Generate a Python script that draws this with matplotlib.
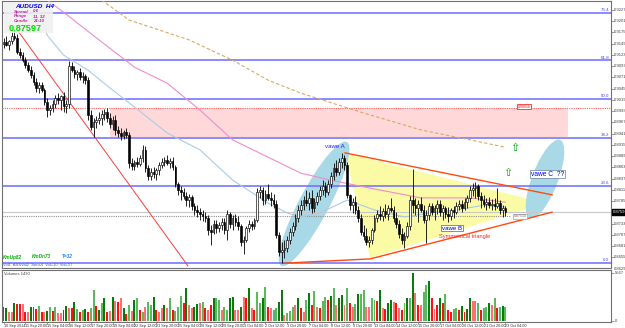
import numpy as np
import matplotlib
matplotlib.use("Agg")
import matplotlib.pyplot as plt
from matplotlib.patches import Ellipse, Polygon, Rectangle
from matplotlib.transforms import IdentityTransform, blended_transform_factory

plt.rcParams['font.family'] = ['Liberation Sans', 'DejaVu Sans']
NARROW = ['Liberation Sans Narrow', 'Liberation Sans', 'DejaVu Sans']

# AUDUSD H4 candles, 10 Sep 12:00 .. 23 Oct 04:00 2014, prices x 10^4
FIRST_OPEN = 9148
closes = [9153, 9146, 9155, 9167, 9162, 9130, 9123, 9111, 9100, 9088,
          9077, 9061, 9047, 9054, 9042, 9014, 8996, 9001, 9010, 9024,
          9019, 9028, 9005, 9010, 9098, 9088, 9079, 9084, 9072, 9074,
          9065, 8984, 8957, 8968, 8973, 8977, 8987, 8991, 8977, 8964,
          8973, 8950, 8943, 8936, 8945, 8938, 8873, 8867, 8876, 8871,
          8885, 8903, 8862, 8843, 8853, 8848, 8857, 8869, 8876, 8880,
          8873, 8878, 8864, 8825, 8811, 8806, 8797, 8788, 8795, 8774,
          8765, 8760, 8756, 8751, 8746, 8719, 8714, 8733, 8723, 8730,
          8737, 8719, 8756, 8733, 8746, 8737, 8728, 8691, 8696, 8723,
          8733, 8728, 8742, 8806, 8811, 8788, 8802, 8793, 8788, 8779,
          8707, 8668, 8672, 8677, 8696, 8714, 8728, 8746, 8765, 8776,
          8788, 8781, 8793, 8770, 8783, 8797, 8811, 8820, 8806, 8825,
          8843, 8862, 8853, 8876, 8885, 8869, 8800, 8776, 8783, 8765,
          8746, 8714, 8705, 8691, 8696, 8719, 8746, 8756, 8751, 8763,
          8756, 8770, 8765, 8746, 8733, 8709, 8696, 8705, 8728, 8788,
          8776, 8770, 8779, 8765, 8742, 8753, 8774, 8760, 8770, 8779,
          8760, 8770, 8756, 8751, 8765, 8760, 8774, 8779, 8770, 8783,
          8793, 8811, 8816, 8820, 8797, 8788, 8779, 8783, 8776, 8779,
          8774, 8781, 8765, 8770, 8760]
highs = [9162, 9167, 9158, 9176, 9185, 9171, 9139, 9130, 9118, 9107,
         9098, 9084, 9070, 9061, 9061, 9047, 9024, 9007, 9019, 9031,
         9035, 9031, 9037, 9019, 9109, 9107, 9098, 9088, 9093, 9084,
         9079, 9072, 8996, 8977, 8982, 8991, 8996, 8998, 9001, 8989,
         8982, 8984, 8959, 8954, 8950, 8954, 8945, 8885, 8880, 8887,
         8892, 8915, 8913, 8869, 8862, 8864, 8862, 8876, 8885, 8887,
         8892, 8885, 8887, 8869, 8830, 8820, 8816, 8806, 8802, 8800,
         8781, 8776, 8770, 8765, 8760, 8753, 8730, 8742, 8742, 8737,
         8746, 8746, 8765, 8760, 8753, 8756, 8751, 8733, 8705, 8728,
         8742, 8740, 8746, 8816, 8820, 8818, 8811, 8825, 8806, 8802,
         8788, 8714, 8691, 8696, 8705, 8723, 8737, 8756, 8776, 8788,
         8797, 8811, 8806, 8811, 8793, 8806, 8820, 8834, 8830, 8834,
         8853, 8873, 8880, 8885, 8897, 8892, 8876, 8802, 8793, 8797,
         8774, 8756, 8730, 8723, 8705, 8723, 8753, 8765, 8774, 8770,
         8779, 8776, 8793, 8774, 8760, 8742, 8723, 8714, 8737, 8797,
         8860, 8793, 8788, 8795, 8776, 8765, 8781, 8781, 8776, 8788,
         8788, 8776, 8774, 8772, 8770, 8774, 8783, 8788, 8788, 8793,
         8800, 8820, 8827, 8830, 8825, 8806, 8800, 8793, 8795, 8790,
         8793, 8816, 8788, 8776, 8774]
lows = [9139, 9144, 9134, 9148, 9158, 9125, 9116, 9107, 9093, 9084,
        9070, 9054, 9037, 9035, 9037, 9007, 8980, 8984, 8991, 9001,
        9010, 8996, 8991, 8989, 9001, 9084, 9070, 9065, 9065, 9058,
        9056, 8973, 8950, 8934, 8954, 8964, 8961, 8973, 8968, 8954,
        8950, 8938, 8934, 8927, 8929, 8931, 8862, 8857, 8857, 8864,
        8867, 8876, 8853, 8834, 8834, 8839, 8834, 8846, 8862, 8867,
        8869, 8862, 8857, 8818, 8800, 8788, 8790, 8774, 8772, 8765,
        8753, 8749, 8742, 8740, 8737, 8707, 8684, 8709, 8712, 8714,
        8719, 8709, 8696, 8723, 8719, 8728, 8719, 8682, 8663, 8691,
        8714, 8719, 8721, 8737, 8793, 8776, 8779, 8788, 8774, 8770,
        8700, 8659, 8642, 8654, 8668, 8686, 8705, 8719, 8737, 8753,
        8765, 8774, 8765, 8758, 8760, 8776, 8788, 8800, 8795, 8800,
        8816, 8834, 8843, 8846, 8862, 8857, 8793, 8765, 8758, 8756,
        8737, 8707, 8696, 8684, 8679, 8686, 8714, 8737, 8742, 8740,
        8746, 8742, 8760, 8737, 8723, 8700, 8686, 8677, 8700, 8719,
        8758, 8753, 8737, 8760, 8735, 8689, 8742, 8753, 8742, 8756,
        8751, 8742, 8746, 8737, 8742, 8746, 8756, 8765, 8760, 8765,
        8770, 8783, 8797, 8793, 8788, 8770, 8772, 8765, 8770, 8765,
        8765, 8770, 8756, 8749, 8751]

volumes = [1690, 1500, 1100, 1020, 2090, 1970, 1970, 1970, 1100, 1100,
           1610, 1610, 1420, 1810, 1100, 1100, 1180, 1690, 1180, 1690,
           900, 900, 1300, 1810, 1500, 1500, 2280, 1420, 1100, 1300,
           1420, 1100, 1570, 3660, 1810, 1300, 2160, 2750, 1100, 1180,
           2870, 2360, 2280, 2750, 1570, 830, 1890, 1180, 2480, 2670,
           1300, 1100, 1690, 2280, 1890, 2870, 1300, 1100, 1500, 1890,
           1570, 2750, 1300, 1180, 1690, 2950, 2160, 3850, 1890, 1500,
           1690, 1970, 2090, 2280, 1570, 1300, 1890, 2670, 2670, 2480,
           1300, 1690, 1300, 2670, 2870, 1300, 1300, 1690, 2870, 2750,
           3850, 1500, 1300, 3460, 2090, 2670, 4050, 1690, 1500, 1300,
           1500, 2280, 3660, 710, 900, 1180, 1690, 1890, 2670,
           1500, 1100, 2480, 3260, 1890, 3540, 1690, 1500, 2360, 2870,
           2480, 2990, 3930, 1890, 2670, 3070, 1890, 3930, 2090, 1690,
           1970, 3150, 3150, 3660, 1690, 1690, 2670, 2480, 2360, 3660,
           1570, 1420, 2090, 2480, 2280, 2090, 1500, 1300, 2090, 2750,
           2670, 5630, 3260, 1890, 1890, 3380, 4250, 4720, 2670, 1380,
           1890, 2750, 2160, 3150, 1300, 1020, 1380, 1500, 1300, 1770,
           1020, 1380, 2670, 2360, 2360, 2160, 1300, 1500, 1690, 2090,
           1890, 2670, 1570, 1690, 1770, 1690]
# G dark green, g light green, R red, r light red
vol_colors = ("RGrrGRRrRr" "GRRgRrGgRg" "rrGGrRGgRg" "GRggRGgGRr" "GrRrGRgrGg"
              "RgrggGRrrG" "rgRgggRGrr" "GGrgRrRGgg" "rggGGrrGrR" "GrRggGgRrg"
              "gGGrgggrG"
              "RrgGRgrRgg" "RGgrGGrgRr" "gGggrrggRG" "rRGGrRrRgG" "gGrRrggGRr"
              "RGRgRRggRG" "RGGrrgRggG" "rgRgGg")

date_labels = ["10 Sep 2014", "11 Sep 20:00", "15 Sep 04:00", "16 Sep 12:00",
               "17 Sep 20:00", "19 Sep 04:00", "22 Sep 12:00", "23 Sep 20:00",
               "25 Sep 04:00", "26 Sep 12:00", "29 Sep 20:00", "1 Oct 04:00",
               "2 Oct 12:00", "3 Oct 20:00", "7 Oct 04:00", "8 Oct 12:00",
               "9 Oct 20:00", "13 Oct 04:00", "14 Oct 12:00", "15 Oct 20:00",
               "17 Oct 04:00", "20 Oct 12:00", "21 Oct 20:00", "23 Oct 04:00"]
price_ticks = [0.92275, 0.92015, 0.91755, 0.91495, 0.91235, 0.90975, 0.90715,
               0.90455, 0.90195, 0.89935, 0.89675, 0.89415, 0.89155, 0.88895,
               0.88635, 0.88375, 0.88115, 0.87855, 0.87335, 0.87075, 0.86815,
               0.86555, 0.86295]

# moving averages (candle index, price)
blue_ma_at = [12, 16, 22, 31, 39, 48, 60, 72, 84, 97, 104, 109, 116, 126, 136, 147, 156, 166, 176, 184]
blue_ma = [0.9245, 0.9169, 0.9123, 0.9088, 0.9047, 0.9003, 0.8943, 0.8904, 0.8834, 0.8781,
           0.8758, 0.8749, 0.8758, 0.8788, 0.8765, 0.8749, 0.8758, 0.8765, 0.8776, 0.8772]
pink_ma_at = [16, 22, 35, 48, 60, 72, 84, 97, 109, 120, 134, 153, 171, 184]
pink_ma = [0.9250, 0.9222, 0.9158, 0.9095, 0.9058, 0.8996, 0.8927, 0.8887, 0.8850,
           0.8834, 0.8816, 0.8793, 0.8793, 0.8783]
tan_ma_at = [36, 46, 68, 84, 97, 109, 131, 153, 171, 184]
tan_ma = [0.9250, 0.9204, 0.9158, 0.9111, 0.9065, 0.9035, 0.8991, 0.8950, 0.8927, 0.8910]

fib_high, fib_low = 0.9400, 0.8642
fib_ratios = [0.0, 0.236, 0.382, 0.5, 0.618, 0.764]
fib_names = ["0.0", "23.6", "38.2", "50.0", "61.8", "76.4"]

current = 0.87597
alert = 0.8751

W, H = 625, 328
fig = plt.figure(figsize=(W / 100, H / 100), dpi=100)
fig.patch.set_facecolor("white")


def px_axes(x0, y0, x1, y1):
    return fig.add_axes([x0 / W, 1 - y1 / H, (x1 - x0) / W, (y1 - y0) / H])


def ftext(x, y, s, **kw):
    fig.text(x / W, 1 - y / H, s, va="center", **kw)


ax = px_axes(2, 0.5, 611, 268)
axv = px_axes(2, 270, 611, 321.5)
XMIN, XMAX = -0.55, 222.7
ax.set_xlim(XMIN, XMAX)
ax.set_ylim(0.8631, 0.9249)
axv.set_xlim(XMIN, XMAX)
axv.set_ylim(-60, 6018)
ax.set_autoscale_on(False)
axv.set_autoscale_on(False)

for a in (ax, axv):
    for s in a.spines.values():
        s.set_color("#707070")
        s.set_linewidth(0.8)
    a.set_facecolor("white")

tr_xa = blended_transform_factory(ax.transAxes, ax.transData)

# background objects
ax.add_patch(Rectangle((39, 0.8934), 168, 0.0067, facecolor="#ffd9d9", edgecolor="none", zorder=1))
ax.axhline(0.9001, color="#ff6060", ls=(0, (1, 1)), lw=0.8, zorder=2)
ax.text(188.5, 0.9004, "0.90010", fontsize=2.6, color="red", va="center", zorder=6,
        bbox=dict(facecolor="white", edgecolor="red", lw=0.5, pad=0.4))

ax.add_patch(Polygon([(125.2, 0.8897), (134.4, 0.8654), (198.5, 0.8781)],
                     closed=True, facecolor="#fbfba6", edgecolor="none", zorder=1))


def ellipse(p0, p1, width_px):
    a = ax.transData.transform(p0)
    b = ax.transData.transform(p1)
    d = b - a
    e = Ellipse((a + b) / 2, np.hypot(*d), width_px, angle=np.degrees(np.arctan2(d[1], d[0])),
                transform=IdentityTransform(), facecolor="#a9d9e6", edgecolor="none", zorder=1)
    ax.add_artist(e)
    e.set_clip_path(ax.patch)


ellipse((101.8, 0.8636), (125.9, 0.8922), 30)
ellipse((193.0, 0.8746), (204.0, 0.8927), 26)

# fibonacci levels
for r, name in zip(fib_ratios, fib_names):
    level = fib_low + (fib_high - fib_low) * r
    ax.axhline(level, color="#6b6bff", lw=1.1, zorder=2)
    ax.text(0.997, level + 0.0002, name, transform=tr_xa, ha="right", va="bottom",
            fontsize=3.2, color="#4040ff", zorder=6)

# price lines
ax.axhline(current, color="#c8c8c8", lw=0.8, zorder=2)
ax.hlines(alert, XMIN, 186, color="#909090", ls=(0, (1, 1)), lw=0.8, zorder=2)
ax.text(187, alert, "0.87510", fontsize=2.6, color="#707070", va="center", zorder=6,
        bbox=dict(facecolor="white", edgecolor="#a0a0a0", lw=0.5, pad=0.4))

# moving averages
ax.plot(blue_ma_at, blue_ma, color="#a8cce6", lw=0.8, zorder=3)
ax.plot(pink_ma_at, pink_ma, color="#f08ccc", lw=0.8, zorder=3)
ax.plot(tan_ma_at, tan_ma, color="#d9a860", lw=0.8, ls=(0, (3, 2)), zorder=3)

# trend lines
ax.plot([4.6, 67.6], [0.9185, 0.8636], color="#ff3c3c", lw=0.7, zorder=3)
ax.plot([125.2, 201.1], [0.8897, 0.8800], color="#ff4a10", lw=1.0, zorder=3)
ax.plot([102.5, 134.4, 201.1], [0.8642, 0.8652, 0.8760], color="#ff4a10", lw=1.0, zorder=3)

# candles
c = np.array(closes) / 1e4
o = np.array([FIRST_OPEN] + closes[:-1]) / 1e4
hi = np.array(highs) / 1e4
lo = np.array(lows) / 1e4
idx = np.arange(len(c))
up = c >= o
ax.vlines(idx, lo, hi, color="black", lw=0.6, zorder=4)
body = np.maximum(np.abs(c - o), 0.00003)
ax.bar(idx[up], body[up], bottom=o[up], width=0.62, color="white", edgecolor="black", lw=0.45, zorder=5)
ax.bar(idx[~up], body[~up], bottom=c[~up], width=0.62, color="black", edgecolor="black", lw=0.45, zorder=5)

# annotations
ax.text(121.5, 0.8911, "vawe A", color="#2020ff", fontsize=4.4, ha="center", va="center", zorder=6)
ax.text(164.4, 0.8723, "vawe B", color="#0000c0", fontsize=4.4, ha="center", va="center", zorder=6,
        bbox=dict(facecolor="white", edgecolor="#5060a0", lw=0.5, pad=0.5))
ax.text(169.2, 0.8703, "Symmetrical triangle", color="#ff2020", fontsize=4.1, ha="center", va="center", zorder=6)
ax.text(199.5, 0.8848, "vawe C  ??", color="#0000ff", fontsize=4.8, ha="center", va="center", zorder=6,
        bbox=dict(facecolor="white", edgecolor="#6080a0", lw=0.5, pad=0.5))
for xa, ya in [(187.5, 0.8908), (184.9, 0.8850)]:
    ax.text(xa, ya, "\u21e7", color="#10a010", fontsize=8, ha="center", va="center", zorder=6)

# right price scale
ax.set_xticks([])
ax.yaxis.tick_right()
ax.set_yticks([t for t in price_ticks if 0.8631 < t < 0.9249])
ax.set_yticklabels([])
ax.tick_params(axis="y", length=2, width=0.5, color="#707070")
for t in price_ticks:
    ax.text(1.004, t, "%.5f" % t, transform=tr_xa, fontsize=3.0, color="#404040",
            va="center", ha="left", clip_on=False, family=NARROW)
ax.text(1.003, current, "0.87597", transform=tr_xa, fontsize=3.0, color="white", va="center",
        ha="left", clip_on=False, zorder=7, family=NARROW,
        bbox=dict(facecolor="black", edgecolor="black", pad=0.6))

# volumes
cmap = {"G": "#0a7a0a", "g": "#5cb85c", "R": "#ff1010", "r": "#ff7070"}
vidx = np.arange(len(volumes))
axv.bar(vidx, volumes, width=0.72, color=[cmap[k] for k in vol_colors], zorder=3)
axv.yaxis.tick_right()
axv.set_yticks([0, 5667])
axv.set_yticklabels(["0", "5667"], family=NARROW)
axv.tick_params(axis="y", length=2, width=0.5, labelsize=3.0, pad=1, color="#707070", labelcolor="#404040")
axv.set_xticks(np.arange(len(date_labels)) * 8)
axv.set_xticklabels(date_labels, ha="left", family=NARROW)
axv.tick_params(axis="x", length=1.5, width=0.5, labelsize=2.7, pad=0.4, color="#707070", labelcolor="#303030")
axv.text(0.004, 0.92, "Volumes 1430", transform=axv.transAxes, fontsize=3.0, color="#404040",
         va="center", family=NARROW)

# info box
fig.add_artist(Rectangle((4 / W, 1 - 33 / H), 49 / W, 31 / H, transform=fig.transFigure,
                         facecolor="#f0f0f0", edgecolor="none", alpha=0.9, zorder=10))
ftext(15, 6, "AUDUSD  H4", color="#0000e0", fontsize=4.6, weight="bold", style="italic", zorder=11)
for yy, k, v in [(11.5, "Spread", "0.6"), (16, "Range", "11, 32"), (20.5, "Candle", "21:10")]:
    ftext(14, yy, k, color="#c020a0", fontsize=3.2, weight="bold", style="italic", zorder=11)
    ftext(33, yy, v, color="#c020a0", fontsize=3.2, weight="bold", style="italic", zorder=11)
ftext(9, 28.5, "0.87597", color="#00dd00", fontsize=6.6, weight="bold", zorder=11)

ftext(3, 257, "KmUp82", color="#00b000", fontsize=3.4, weight="bold", style="italic", zorder=11)
ftext(32, 257, "KmDn73", color="#00b000", fontsize=3.4, weight="bold", style="italic", zorder=11)
ftext(62, 257, "T=32", color="#2080ff", fontsize=3.4, weight="bold", style="italic", zorder=11)
ftext(3, 265.5, "Vol1  ASSVol2  Sens4  Vol+10  Vol+57", color="#3060e0", fontsize=3.0, zorder=11)

fig.savefig("out.png", dpi=100)
